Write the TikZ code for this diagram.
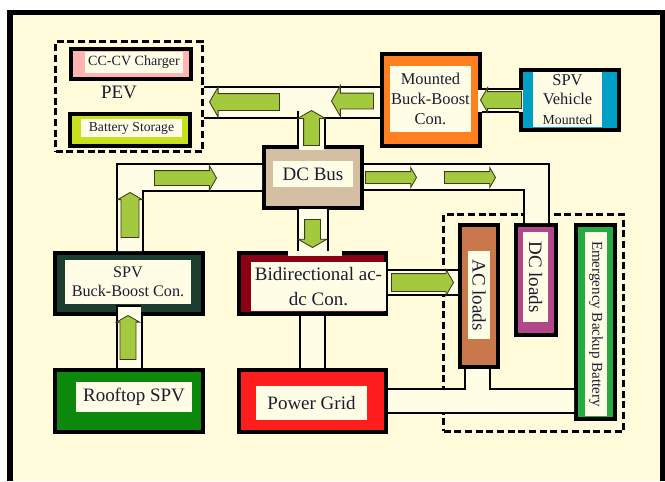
\documentclass[tikz,border=0pt]{standalone}
\usepackage{fontspec}
\setmainfont{Liberation Serif}
\usetikzlibrary{shapes.arrows}

\definecolor{bgpaper}{HTML}{FFFBDB}
\definecolor{cream}{HTML}{FFFDE6}
\definecolor{ink}{HTML}{1C1C30}
\definecolor{pinkcc}{HTML}{FFB3B3}
\definecolor{limebs}{HTML}{C8E11E}
\definecolor{orangembb}{HTML}{FF7F21}
\definecolor{bluespv}{HTML}{009FC6}
\definecolor{tanbus}{HTML}{D5BFA3}
\definecolor{darkredbi}{HTML}{8B0013}
\definecolor{redgrid}{HTML}{FF1E1E}
\definecolor{darkgreensbb}{HTML}{1C3E31}
\definecolor{greenrs}{HTML}{0C880C}
\definecolor{brownac}{HTML}{C8784A}
\definecolor{magentadc}{HTML}{B3478B}
\definecolor{greenebb}{HTML}{26AA41}
\definecolor{arrowgreen}{HTML}{A3C93F}
\definecolor{arrowedge}{HTML}{3B3B1E}

\tikzstyle{blk} = [rectangle, draw=black, line width=2.6pt, inner sep=0pt]
\tikzstyle{lbl} = [rectangle, fill=cream, inner sep=0pt, align=center, text=ink]
\tikzstyle{grp} = [rectangle, draw=black, line width=2.3pt, dash pattern=on 5pt off 2.6pt, inner sep=0pt]
\tikzstyle{wire} = [line width=1.5pt]
\tikzstyle{flow} = [single arrow, draw=arrowedge, fill=arrowgreen, line width=0.6pt, single arrow tip angle=120, anchor=tip]

\begin{document}
\begin{tikzpicture}[x=0.025cm, y=-0.025cm]

\useasboundingbox (0,0) rectangle (665,481);
\fill[white] (0,0) rectangle (665,481);
\fill[bgpaper] (10,12.5) rectangle (663,481);
\draw[line width=3.8pt] (10,481) -- (10,12.5) -- (663,12.5) -- (663,481);

% dashed groups
\node(PEVg)[grp, minimum width=3.67cm, minimum height=2.745cm] at (129,96.5) {};
\node(LDg)[grp, minimum width=4.495cm, minimum height=5.42cm] at (533.5,323) {};
\node(PEVl)[anchor=base, text=ink, font=\fontsize{13.5}{16}\selectfont] at (119,98) {PEV};

% blocks
\node(CC)[blk, fill=pinkcc, minimum width=3.01cm, minimum height=0.76cm] at (131,64) {};
\node(CCt)[lbl, minimum width=2.45cm, minimum height=0.525cm, font=\fontsize{10}{12}\selectfont] at (134,62.2) {CC-CV Charger};

\node(BS)[blk, fill=limebs, minimum width=3.01cm, minimum height=0.81cm] at (130,130) {};
\node(BSt)[lbl, minimum width=2.5cm, minimum height=0.45cm, font=\fontsize{9.7}{12}\selectfont] at (131.5,128) {Battery Storage};

\node(MBB)[blk, fill=orangembb, minimum width=2.46cm, minimum height=2.31cm] at (431,100) {};
\node(MBBt)[lbl, minimum width=2.025cm, minimum height=1.65cm, font=\fontsize{11.7}{14}\selectfont] at (430.5,99) {Mounted\\Buck-Boost\\Con.};

\node(SPVV)[blk, fill=bluespv, minimum width=2.46cm, minimum height=1.51cm] at (570,100) {};
\node(SPVVt)[lbl, minimum width=1.725cm, minimum height=1.375cm, font=\fontsize{11.7}{14}\selectfont] at (567.5,99.5) {SPV\\Vehicle\\\fontsize{9.8}{14}\selectfont Mounted};

\node(DC)[blk, fill=tanbus, minimum width=2.46cm, minimum height=1.535cm] at (313,177.5) {};
\node(DCt)[lbl, minimum width=2.0cm, minimum height=0.65cm, font=\fontsize{13.5}{16}\selectfont] at (313,174) {DC Bus};

\node(BI)[blk, fill=darkredbi, minimum width=3.685cm, minimum height=1.535cm] at (312.5,283.5) {};
\node(BIt)[lbl, minimum width=3.375cm, minimum height=1.225cm, font=\fontsize{13.5}{17.8}\selectfont] at (318.5,286.5) {Bidirectional ac-\\dc Con.};

\node(PG)[blk, fill=redgrid, minimum width=3.685cm, minimum height=1.56cm] at (312.5,401) {};
\node(PGt)[lbl, minimum width=2.775cm, minimum height=0.85cm, font=\fontsize{13.5}{16}\selectfont] at (311.5,403) {Power Grid};

\node(SBB)[blk, fill=darkgreensbb, minimum width=3.71cm, minimum height=1.535cm] at (129,283.5) {};
\node(SBBt)[lbl, minimum width=3.15cm, minimum height=1.1cm, font=\fontsize{11.5}{13.5}\selectfont] at (128,282) {SPV\\Buck-Boost Con.};

\node(RS)[blk, fill=greenrs, minimum width=3.71cm, minimum height=1.56cm] at (129,401) {};
\node(RSt)[lbl, minimum width=2.9cm, minimum height=0.75cm, font=\fontsize{13.5}{16}\selectfont] at (134,397) {Rooftop SPV};

\node(AC)[blk, fill=brownac, minimum width=0.96cm, minimum height=3.56cm] at (479,296) {};
\node(ACt)[lbl, rotate=-90, minimum width=2.2cm, minimum height=0.55cm, font=\fontsize{13.5}{16}\selectfont] at (479,295) {AC loads};

\node(DCL)[blk, fill=magentadc, minimum width=1.01cm, minimum height=2.76cm] at (536,280) {};
\node(DCLt)[lbl, rotate=-90, minimum width=2.25cm, minimum height=0.625cm, font=\fontsize{13.5}{16}\selectfont] at (535.5,277) {DC loads};

\node(EBB)[blk, fill=greenebb, minimum width=0.985cm, minimum height=4.86cm] at (595.5,322) {};
\node(EBBt)[lbl, rotate=-90, minimum width=4.6cm, minimum height=0.55cm, font=\fontsize{10.7}{13}\selectfont] at (596,324) {Emergency Backup Battery};

% channel interiors
\fill[cream] (205,88) rectangle (380,117);
\fill[cream] (478,90) rectangle (523,112);
\fill[cream] (299,116) rectangle (324,150);
\fill[cream] (262,165) -- (118,165) -- (118,251) -- (142,251) -- (142,190) -- (262,190) -- cycle;
\fill[cream] (299,209) rectangle (327,251);
\fill[cream] (288,250) rectangle (342,255.5);
\fill[cream] (364,165) -- (548,165) -- (548,223) -- (525,223) -- (525,189) -- (364,189) -- cycle;
\fill[cream] (388,271) rectangle (458,294);
\fill[cream] (301,316) rectangle (324,368);
\fill[cream] (118,307) rectangle (141,368);
\fill[cream] (388,390) -- (466,390) -- (466,369) -- (489,369) -- (489,390) -- (574,390) -- (574,412) -- (388,412) -- cycle;

% channel walls
\draw[wire] (PEVg.east |- 0,87) -- (MBB.west |- 0,87);
\draw[wire] (PEVg.east |- 0,118) -- (MBB.west |- 0,118);
\draw[wire] (MBB.east |- 0,89) -- (SPVV.west |- 0,89);
\draw[wire] (MBB.east |- 0,112) -- (SPVV.west |- 0,112);
\draw[wire] (DC.north -| 298,0) -- (298,111);
\draw[wire] (DC.north -| 325,0) -- (325,118);
\draw[wire] (DC.west |- 0,164) -| (SBB.north -| 117,0);
\draw[wire] (DC.west |- 0,191) -| (SBB.north -| 143,0);
\draw[wire] (DC.south -| 298,0) -- (BI.north -| 298,0);
\draw[wire] (DC.south -| 328,0) -- (BI.north -| 328,0);
\draw[wire] (DC.east |- 0,164) -| (DCL.north -| 549,0);
\draw[wire] (DC.east |- 0,190) -| (DCL.north -| 524,0);
\draw[wire] (BI.east |- 0,270) -- (AC.west |- 0,270);
\draw[wire] (BI.east |- 0,295) -- (AC.west |- 0,295);
\draw[wire] (BI.south -| 300,0) -- (PG.north -| 300,0);
\draw[wire] (BI.south -| 325,0) -- (PG.north -| 325,0);
\draw[wire] (RS.north -| 117,0) -- (117,306) -- (141,306);
\draw[wire] (RS.north -| 142,0) -- (SBB.south -| 142,0);
\draw[wire] (PG.east |- 0,389) -| (AC.south -| 465,0);
\draw[wire] (AC.south -| 490,0) |- (EBB.west |- 0,389);
\draw[wire] (PG.east |- 0,413) -- (EBB.west |- 0,413);

% flow arrows
\node(F1)[flow, shape border rotate=180, inner sep=0.2cm, minimum height=1.75cm, minimum width=0.725cm, single arrow head extend=0.1625cm] at (209,102) {};
\node(F2)[flow, shape border rotate=180, inner sep=0.1875cm, minimum height=1.05cm, minimum width=0.75cm, single arrow head extend=0.1875cm] at (331,101) {};
\node(F3)[flow, shape border rotate=180, inner sep=0.2cm, minimum height=1.025cm, minimum width=0.6cm, single arrow head extend=0.1cm] at (480,100) {};
\node(F4)[flow, shape border rotate=90, inner sep=0.1875cm, minimum height=0.875cm, minimum width=0.675cm, single arrow head extend=0.15cm] at (311.5,110) {};
\node(F5)[flow, inner sep=0.175cm, minimum height=1.55cm, minimum width=0.6cm, single arrow head extend=0.125cm] at (217,178) {};
\node(F6)[flow, shape border rotate=90, inner sep=0.2125cm, minimum height=1.125cm, minimum width=0.6cm, single arrow head extend=0.0875cm] at (130,192) {};
\node(F7)[flow, shape border rotate=90, inner sep=0.1875cm, minimum height=1.1cm, minimum width=0.55cm, single arrow head extend=0.0875cm] at (128,315) {};
\node(F8)[flow, shape border rotate=270, inner sep=0.1875cm, minimum height=0.7cm, minimum width=0.7cm, single arrow head extend=0.1625cm] at (312.5,248) {};
\node(F9)[flow, inner sep=0.1375cm, minimum height=1.275cm, minimum width=0.475cm, single arrow head extend=0.1cm] at (417,177.5) {};
\node(F10)[flow, inner sep=0.1375cm, minimum height=1.275cm, minimum width=0.475cm, single arrow head extend=0.1cm] at (496,177.5) {};
\node(F11)[flow, inner sep=0.2125cm, minimum height=1.55cm, minimum width=0.625cm, single arrow head extend=0.1cm] at (454,282.5) {};

\end{tikzpicture}
\end{document}
